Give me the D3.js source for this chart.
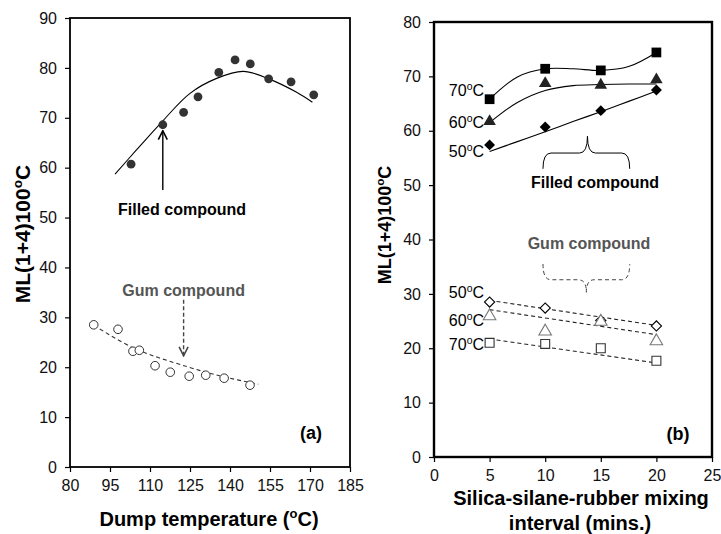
<!DOCTYPE html>
<html><head><meta charset="utf-8">
<script src="https://cdn.jsdelivr.net/npm/d3@7/dist/d3.min.js"></script>
<style>
body{margin:0;background:#fff;}
svg{font-family:"Liberation Sans",Arial,sans-serif;}
</style></head>
<body><svg id="c" width="721" height="534"></svg>
<script>
// ---------- Panel (a) data ----------
const dumpTicks = [80, 95, 110, 125, 140, 155, 170, 185];
const mlTicksA = [0, 10, 20, 30, 40, 50, 60, 70, 80, 90];
const filledTemp = [102.9, 114.8, 122.6, 128, 135.8, 141.9, 147.6, 154.5, 162.9, 171.4];
const filledML   = [60.7, 68.6, 71.1, 74.2, 79.1, 81.6, 80.8, 77.8, 77.2, 74.6];
const filledFitTemp = [96.9, 105, 115, 125, 135, 145, 155, 165, 170.9];
const filledFitML   = [58.7, 63.6, 69.5, 74.9, 77.9, 79.3, 77.7, 75.1, 73.1];
const gumTemp = [88.9, 98, 103.6, 106, 111.9, 117.6, 124.7, 130.9, 137.8, 147.5];
const gumML   = [28.5, 27.6, 23.2, 23.4, 20.3, 19.0, 18.2, 18.4, 17.8, 16.4];
const gumFitTemp = [89, 104, 124, 137.6, 150.6];
const gumFitML   = [28.4, 23.8, 20.1, 18.1, 16.6];

// ---------- Panel (b) data ----------
const mixTicks = [0, 5, 10, 15, 20, 25];
const mlTicksB = [0, 10, 20, 30, 40, 50, 60, 70, 80];
const mixInterval = [5, 10, 15, 20];
const filled70 = [65.8, 71.4, 71.1, 74.4];
const filled60 = [61.7, 68.7, 68.4, 69.4];
const filled50 = [57.4, 60.7, 63.7, 67.5];
const gum50 = [28.5, 27.4, 25.1, 24.1];
const gum60 = [25.9, 23.1, 24.9, 21.3];
const gum70 = [21.0, 20.8, 20.0, 17.7];
const fitX = [5, 7.5, 10, 12.5, 15, 17.5, 20];
const fit70 = [65.8, 69.9, 71.4, 71.4, 71.1, 71.8, 74.4];
const fit60 = [61.5, 65.2, 67.4, 68.3, 68.5, 68.6, 68.6];
const fit50 = [56.2, 58.0, 59.8, 61.7, 63.5, 65.4, 67.3];
const gumFitX = [5, 20];
const gumFit50 = [28.8, 24.2];
const gumFit60 = [27.1, 22.5];
const gumFit70 = [21.7, 17.3];

const svg = d3.select("#c");
const FS = 16;

function supText(g, x, y, pre, post, opts) {
  const t = g.append("text").attr("x", x).attr("y", y)
    .attr("font-size", opts.size).attr("font-weight", opts.weight || "normal")
    .attr("fill", opts.fill || "#000").attr("text-anchor", opts.anchor || "start");
  if (opts.transform) t.attr("transform", opts.transform);
  t.append("tspan").text(pre);
  t.append("tspan").attr("font-size", opts.size * 0.65).attr("dy", -opts.size * 0.4).text("o");
  t.append("tspan").attr("dy", opts.size * 0.4).text(post);
  return t;
}

function panelAxes(g, x, y, xt, yt, frameW) {
  const [x0, x1] = x.range(), [y0, y1] = y.range();
  const ax = g.append("g").attr("transform", `translate(0,${y0})`)
    .call(d3.axisBottom(x).tickValues(xt).tickSize(5).tickPadding(8).tickFormat(d3.format("d")));
  const ay = g.append("g").attr("transform", `translate(${x0},0)`)
    .call(d3.axisLeft(y).tickValues(yt).tickSize(5).tickPadding(8).tickFormat(d3.format("d")));
  [ax, ay].forEach(a => {
    a.select(".domain").remove();
    a.selectAll("line").attr("stroke", "#000").attr("stroke-width", 1.2);
    a.selectAll("text").attr("font-size", FS).attr("fill", "#111")
      .attr("font-family", '"Liberation Sans",Arial,sans-serif');
  });
  g.append("rect").attr("x", x0).attr("y", y1).attr("width", x1 - x0).attr("height", y0 - y1)
    .attr("fill", "none").attr("stroke", "#000").attr("stroke-width", frameW);
}

svg.append("defs").html(`
<marker id="ah" viewBox="0 0 10 10" refX="9" refY="5" markerWidth="8" markerHeight="8" orient="auto">
<path d="M1,1 L9,5 L1,9" fill="none" stroke="#000" stroke-width="1.4"/></marker>
<marker id="ahg" viewBox="0 0 10 10" refX="9" refY="5" markerWidth="8" markerHeight="8" orient="auto">
<path d="M1,1 L9,5 L1,9" fill="none" stroke="#444" stroke-width="1.4"/></marker>`);

// ================= Panel (a) =================
const xa = d3.scaleLinear().domain([80, 185]).range([70, 350]);
const ya = d3.scaleLinear().domain([0, 90]).range([467, 18]);
const ga = svg.append("g");
panelAxes(ga, xa, ya, dumpTicks, mlTicksA, 1.8);

const lineA = d3.line().curve(d3.curveCatmullRom.alpha(0.5));
ga.append("path").attr("d", lineA(filledFitTemp.map((t, i) => [xa(t), ya(filledFitML[i])])))
  .attr("fill", "none").attr("stroke", "#000").attr("stroke-width", 1.1);
ga.append("path").attr("d", lineA(gumFitTemp.map((t, i) => [xa(t), ya(gumFitML[i])])))
  .attr("fill", "none").attr("stroke", "#333").attr("stroke-width", 1.1).attr("stroke-dasharray", "4,3");
ga.selectAll(".fp").data(filledTemp).join("circle")
  .attr("cx", d => xa(d)).attr("cy", (d, i) => ya(filledML[i])).attr("r", 4.4).attr("fill", "#333");
ga.selectAll(".gp").data(gumTemp).join("circle")
  .attr("cx", d => xa(d)).attr("cy", (d, i) => ya(gumML[i])).attr("r", 4.3)
  .attr("fill", "#fff").attr("stroke", "#333").attr("stroke-width", 1);

// annotations (a)
ga.append("line").attr("x1", xa(114.8)).attr("x2", xa(114.8)).attr("y1", ya(55.5)).attr("y2", ya(67.4))
  .attr("stroke", "#000").attr("stroke-width", 1.4).attr("marker-end", "url(#ah)");
ga.append("text").attr("x", xa(122)).attr("y", ya(51.7) + 6).attr("text-anchor", "middle")
  .attr("font-size", 16).attr("font-weight", "bold").text("Filled compound");
ga.append("text").attr("x", xa(122.6)).attr("y", ya(35.5) + 6).attr("text-anchor", "middle")
  .attr("font-size", 16).attr("font-weight", "bold").attr("fill", "#555").text("Gum compound");
ga.append("line").attr("x1", xa(122.6)).attr("x2", xa(122.6)).attr("y1", ya(33.5)).attr("y2", ya(22.3))
  .attr("stroke", "#444").attr("stroke-width", 1.4).attr("stroke-dasharray", "4,2.5").attr("marker-end", "url(#ahg)");
ga.append("text").attr("x", 311).attr("y", 439).attr("text-anchor", "middle")
  .attr("font-size", 18).attr("font-weight", "bold").text("(a)");

supText(ga, 209, 526, "Dump temperature (", "C)", {size: 20, weight: "bold", anchor: "middle"});
supText(ga, 0, 0, "ML(1+4)100", "C", {size: 21, weight: "bold", anchor: "middle", transform: "translate(30,234) rotate(-90)"});

// ================= Panel (b) =================
const xb = d3.scaleLinear().domain([0, 25]).range([434, 712]);
const yb = d3.scaleLinear().domain([0, 80]).range([457, 22]);
const gb = svg.append("g");
panelAxes(gb, xb, yb, mixTicks, mlTicksB, 2.4);

const lineB = d3.line().curve(d3.curveCatmullRom.alpha(0.5));
[fit70, fit60, fit50].forEach(f => {
  gb.append("path").attr("d", lineB(fitX.map((x, i) => [xb(x), yb(f[i])])))
    .attr("fill", "none").attr("stroke", "#000").attr("stroke-width", 1.1);
});
[gumFit50, gumFit60, gumFit70].forEach(f => {
  gb.append("path").attr("d", d3.line()(gumFitX.map((x, i) => [xb(x), yb(f[i])])))
    .attr("fill", "none").attr("stroke", "#222").attr("stroke-width", 1.1).attr("stroke-dasharray", "4,3");
});

const sym = (type, size) => d3.symbol().type(type).size(size)();
function markers(vals, type, size, fill, stroke, rot) {
  gb.selectAll(null).data(mixInterval).join("path")
    .attr("transform", (d, i) => `translate(${xb(d)},${yb(vals[i])}) rotate(${rot || 0})`)
    .attr("d", sym(type, size)).attr("fill", fill).attr("stroke", stroke).attr("stroke-width", 1.1);
}
markers(filled70, d3.symbolSquare, 95, "#000", "none");
markers(filled60, d3.symbolTriangle, 68, "#222", "none");
markers(filled50, d3.symbolSquare, 60, "#000", "none", 45);
markers(gum50, d3.symbolSquare, 52, "#fff", "#000", 45);
markers(gum60, d3.symbolTriangle, 68, "#fff", "#777");
markers(gum70, d3.symbolSquare, 80, "#fff", "#333");

// labels
const lab = [["70", 90], ["60", 122], ["50", 151], ["50", 292], ["60", 320], ["70", 344]];
lab.forEach(([t, y]) => supText(gb, 484, y + 6, t, "C", {size: 16, anchor: "end"}));

// braces
function brace(xl, xr, xm, yH, yE, yT, dashed) {
  const L = xb(xl), R = xb(xr), M = xb(xm), H = yb(yH), E = yb(yE), T = yb(yT);
  const r = 8;
  const d = `M${L},${E} Q${L},${H} ${L + r},${H} L${M - r},${H} Q${M},${H} ${M},${T} ` +
            `Q${M},${H} ${M + r},${H} L${R - r},${H} Q${R},${H} ${R},${E}`;
  const p = gb.append("path").attr("d", d).attr("fill", "none")
    .attr("stroke", dashed ? "#444" : "#000").attr("stroke-width", 1);
  if (dashed) p.attr("stroke-dasharray", "4,3");
}
brace(9.8, 17.6, 13.8, 55.9, 53.0, 59.0, false);
brace(9.8, 17.6, 13.7, 32.6, 35.5, 30.3, true);

gb.append("text").attr("x", 595).attr("y", 188).attr("text-anchor", "middle")
  .attr("font-size", 16).attr("font-weight", "bold").text("Filled compound");
gb.append("text").attr("x", 589).attr("y", 249).attr("text-anchor", "middle")
  .attr("font-size", 16).attr("font-weight", "bold").attr("fill", "#555").text("Gum compound");
gb.append("text").attr("x", 678).attr("y", 440).attr("text-anchor", "middle")
  .attr("font-size", 18).attr("font-weight", "bold").text("(b)");

gb.append("text").attr("x", 581).attr("y", 505).attr("text-anchor", "middle")
  .attr("font-size", 20).attr("font-weight", "bold").text("Silica-silane-rubber mixing");
gb.append("text").attr("x", 580).attr("y", 530).attr("text-anchor", "middle")
  .attr("font-size", 20).attr("font-weight", "bold").text("interval (mins.)");
supText(gb, 0, 0, "ML(1+4)100", "C", {size: 18, weight: "bold", anchor: "middle", transform: "translate(391,225) rotate(-90)"});
</script></body></html>
